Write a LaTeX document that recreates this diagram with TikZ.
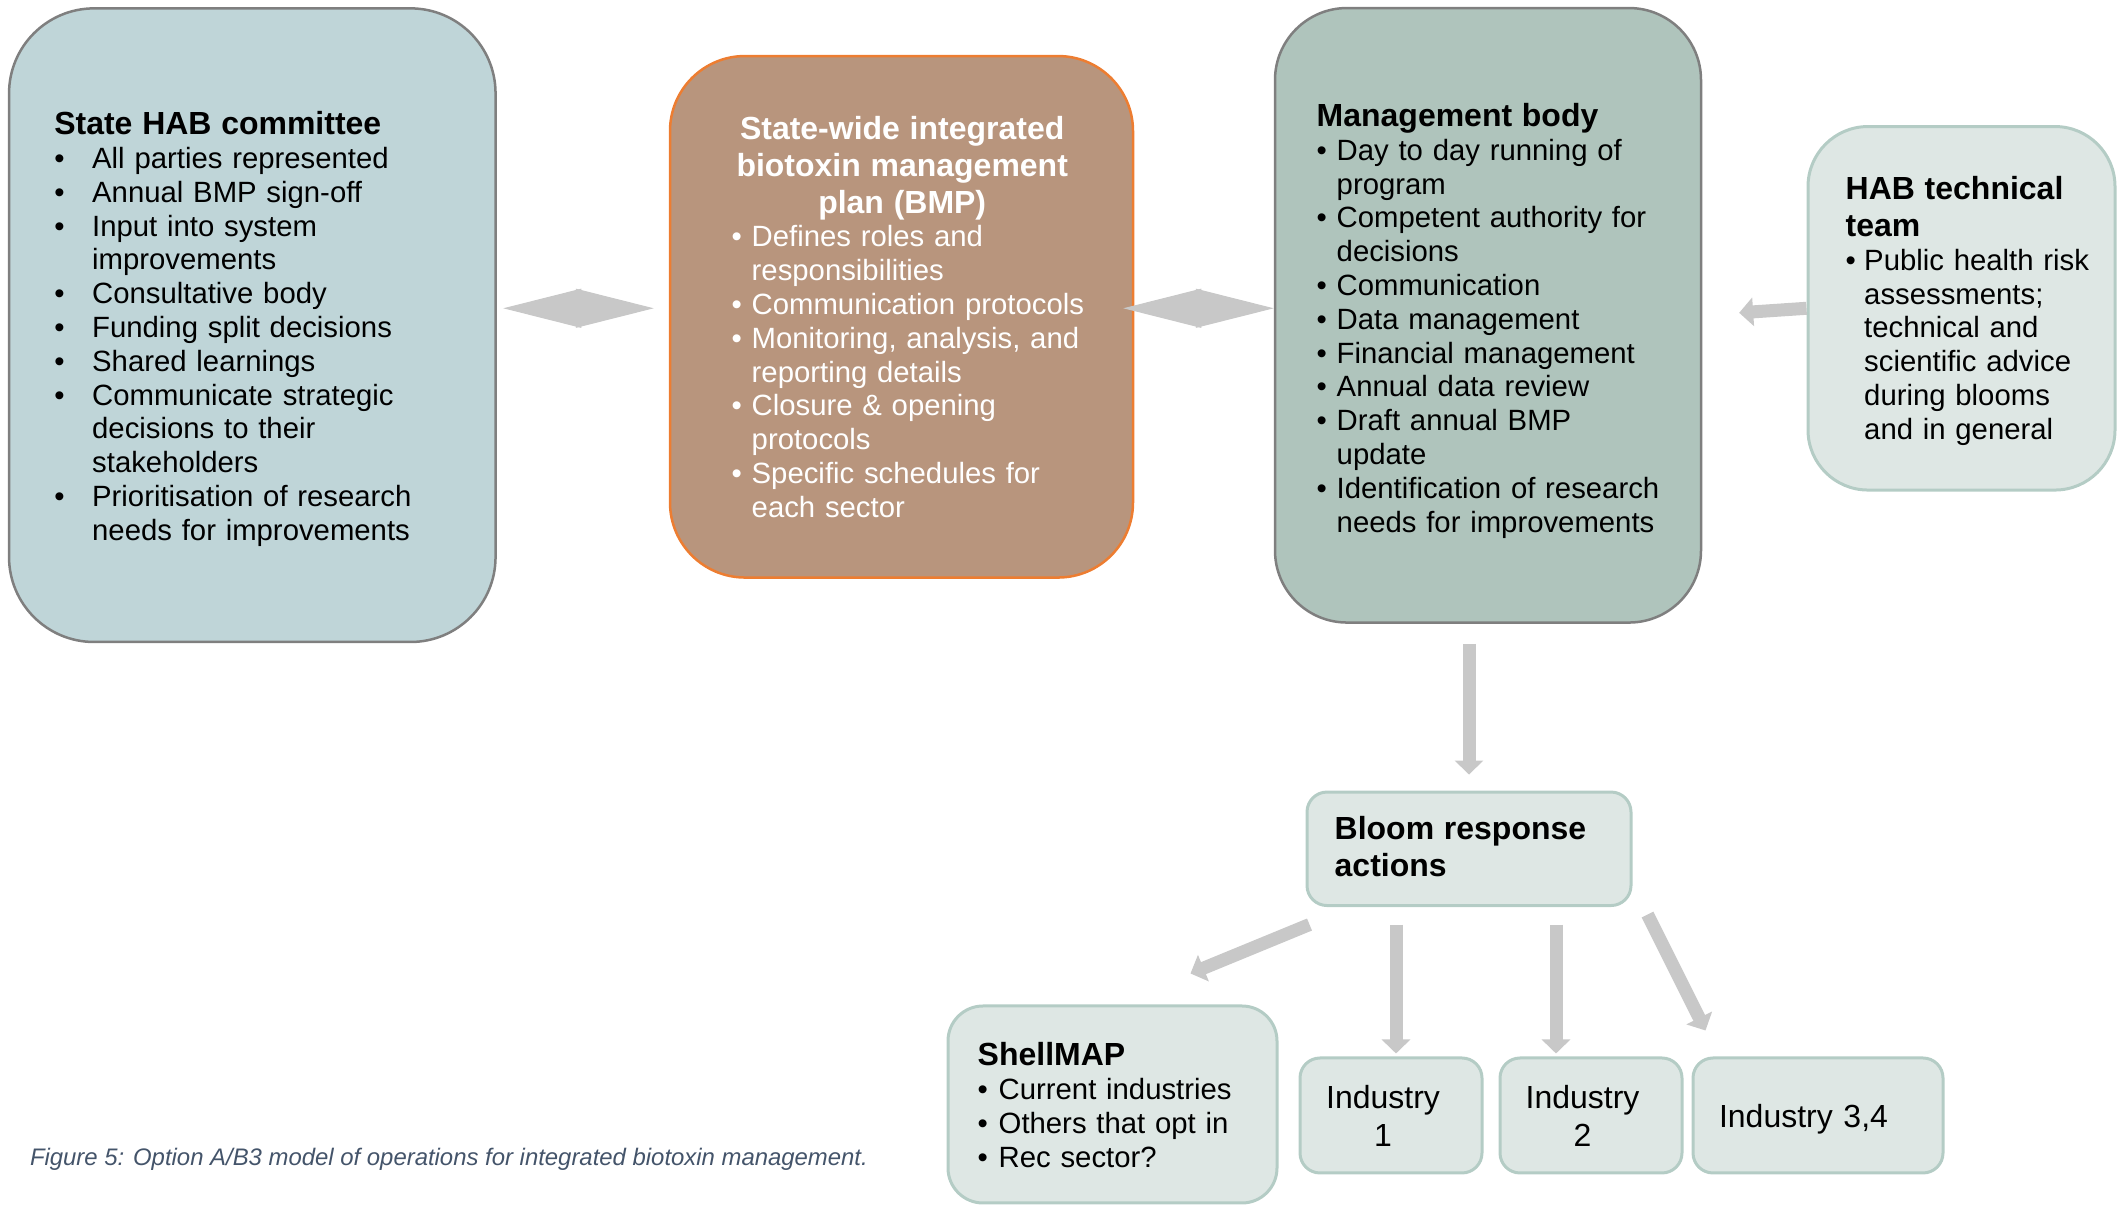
\documentclass[tikz,border=0pt]{standalone}
\usepackage{fontspec}
\setmainfont{Liberation Sans}
\usepackage{xcolor}
\usepackage{tikz}
\usetikzlibrary{arrows.meta, calc, positioning}
\definecolor{hubBlue}{HTML}{BFD5D8}
\definecolor{hubGrey}{HTML}{7F7F7F}
\definecolor{planBrown}{HTML}{B8957D}
\definecolor{planOrange}{HTML}{ED7D31}
\definecolor{bodyGreen}{HTML}{AFC4BC}
\definecolor{paleGreen}{HTML}{DEE7E4}
\definecolor{paleEdge}{HTML}{B4CCC5}
\definecolor{arrowGrey}{HTML}{C8C8C8}
\definecolor{captionBlue}{HTML}{44546A}
\newcommand{\hbody}{\fontsize{8.34}{9.62}\selectfont}
\newcommand{\htitle}{\fontsize{9.1}{10.39}\selectfont\bfseries}
\newcommand{\hind}{\fontsize{9.1}{10.53}\selectfont}
% one bullet line, and the run-on line under it (#1 = where the text starts)
\newcommand{\bitem}[2][0.2cm]{\mbox{\makebox[#1][l]{\textbullet}#2}}
\newcommand{\bcont}[2][0.2cm]{\mbox{\hspace*{#1}#2}}

\begin{document}
\begin{tikzpicture}[
    box/.style={draw, inner sep=0pt, line width=0.25mm, rounded corners=#1},
    pale/.style={box=#1, fill=paleGreen, draw=paleEdge, line width=0.3mm},
    txt/.style={anchor=base west, inner sep=0pt, align=left, font=\hbody},
    indtxt/.style={anchor=base, inner sep=0pt, align=center, text width=1.6cm, font=\hind},
    flow/.style={draw=arrowGrey, line width=1.3mm, -{Triangle[length=1.4mm, width=2.8mm]}},
    dbl/.style={draw=arrowGrey, line width=0.1mm, {Triangle[length=7.8mm, width=3.9mm]}-{Triangle[length=7.8mm, width=3.9mm]}}
  ]
	\useasboundingbox (0,0) rectangle (21.18,-12.05);

	% top row
	\node[box=0.85cm, fill=hubBlue, draw=hubGrey, minimum width=4.865cm, minimum height=6.336cm] (committee) at (2.523,-3.252) {};
	\node[box=0.75cm, fill=planBrown, draw=planOrange, minimum width=4.63cm, minimum height=5.215cm] (bmp) at (9.015,-3.168) {};
	\node[box=0.72cm, fill=bodyGreen, draw=hubGrey, minimum width=4.26cm, minimum height=6.145cm] (mgmt) at (14.88,-3.153) {};
	\node[pale=0.6cm, minimum width=3.07cm, minimum height=3.635cm] (hab) at (19.615,-3.083) {};

	% bottom part
	\node[pale=0.2cm, minimum width=3.24cm, minimum height=1.135cm] (bloom) at (14.69,-8.488) {};
	\node[pale=0.35cm, minimum width=3.29cm, minimum height=1.97cm] (shellmap) at (11.125,-11.045) {};
	\node[pale=0.2cm, minimum width=1.82cm, minimum height=1.15cm] (ind1) at (13.91,-11.155) {};
	\node[pale=0.2cm, minimum width=1.82cm, minimum height=1.15cm, right=0.15cm of ind1] (ind2) {};
	\node[pale=0.2cm, minimum width=2.5cm, minimum height=1.15cm, right=0.08cm of ind2] (ind34) {};

	\draw[dbl, shorten <=0.065cm, shorten >=0.15cm] (committee.east |- hab.west) -- (bmp.west |- hab.west);
	\draw[dbl, shorten <=-0.11cm] (bmp.east |- hab.west) -- (mgmt.west |- hab.west);
	\draw[flow, shorten >=0.37cm] (hab.west) -- (mgmt.east);
	\draw[flow, shorten <=0.2cm, shorten >=0.16cm] (mgmt.south -| bloom.north) -- (bloom.north);

	\draw[flow] ($ (bloom.south west)+(0.04,-0.175) $) -- ($ (shellmap.north east)+(-0.88,0.31) $);
	\draw[flow] ($ (ind1.north |- bloom.south)+(0.05,-0.175) $) -- ($ (ind1.north)+(0.05,0.03) $);
	\draw[flow] ($ (ind2.north |- bloom.south)+(-0.35,-0.175) $) -- ($ (ind2.north)+(-0.35,0.03) $);
	\draw[flow] ($ (bloom.south east)+(0.15,-0.075) $) -- ($ (ind34.north west)+(0.14,0.26) $);

	\node[txt, text width=4.4cm] (committee-txt) at (0.536,-1.347) {%
		{\htitle State HAB committee\par}
		\bitem[0.379cm]{All parties represented}\\
		\bitem[0.379cm]{Annual BMP sign-off}\\
		\bitem[0.379cm]{Input into system}\\
		\bcont[0.379cm]{improvements}\\
		\bitem[0.379cm]{Consultative body}\\
		\bitem[0.379cm]{Funding split decisions}\\
		\bitem[0.379cm]{Shared learnings}\\
		\bitem[0.379cm]{Communicate strategic}\\
		\bcont[0.379cm]{decisions to their}\\
		\bcont[0.379cm]{stakeholders}\\
		\bitem[0.379cm]{Prioritisation of research}\\
		\bcont[0.379cm]{needs for improvements}};

	\node[txt, text width=3.41cm, text=white] (bmp-txt) at (7.31,-1.40) {%
		{\centering\htitle State-wide integrated\\ biotoxin management\\ plan (BMP)\par}
		\bitem{Defines roles and}\\
		\bcont{responsibilities}\\
		\bitem{Communication protocols}\\
		\bitem{Monitoring, analysis, and}\\
		\bcont{reporting details}\\
		\bitem{Closure \& opening}\\
		\bcont{protocols}\\
		\bitem{Specific schedules for}\\
		\bcont{each sector}};

	\node[txt, text width=4cm] (mgmt-txt) at (13.16,-1.265) {%
		{\htitle Management body\par}
		\bitem{Day to day running of}\\
		\bcont{program}\\
		\bitem{Competent authority for}\\
		\bcont{decisions}\\
		\bitem{Communication}\\
		\bitem{Data management}\\
		\bitem{Financial management}\\
		\bitem{Annual data review}\\
		\bitem{Draft annual BMP}\\
		\bcont{update}\\
		\bitem{Identification of research}\\
		\bcont{needs for improvements}};

	\node[txt, text width=2.8cm] (hab-txt) at (18.45,-2.00) {%
		{\htitle HAB technical\\ team\par}
		\bitem[0.185cm]{Public health risk}\\
		\bcont[0.185cm]{assessments;}\\
		\bcont[0.185cm]{technical and}\\
		\bcont[0.185cm]{scientific advice}\\
		\bcont[0.185cm]{during blooms}\\
		\bcont[0.185cm]{and in general}};

	\node[txt, text width=3cm] (bloom-txt) at (13.34,-8.40) {%
		{\htitle Bloom response\\ actions\par}};

	\node[txt, text width=3cm] (shellmap-txt) at (9.77,-10.66) {%
		{\htitle ShellMAP\par}
		\bitem[0.21cm]{Current industries}\\
		\bitem[0.21cm]{Others that opt in}\\
		\bitem[0.21cm]{Rec sector?}};

	\node[indtxt] (ind1-txt) at (13.83,-11.09) {Industry\\1};
	\node[indtxt] (ind2-txt) at (15.825,-11.09) {Industry\\2};
	\node[indtxt, text width=2.2cm] (ind34-txt) at (18.035,-11.275) {Industry 3,4};

	\node[anchor=base west, inner sep=0pt, text=captionBlue, font=\fontsize{6.8}{8}\selectfont\itshape] (caption) at (0.293,-11.657) {Figure 5: Option A/B3 model of operations for integrated biotoxin management.};

\end{tikzpicture}
\end{document}
